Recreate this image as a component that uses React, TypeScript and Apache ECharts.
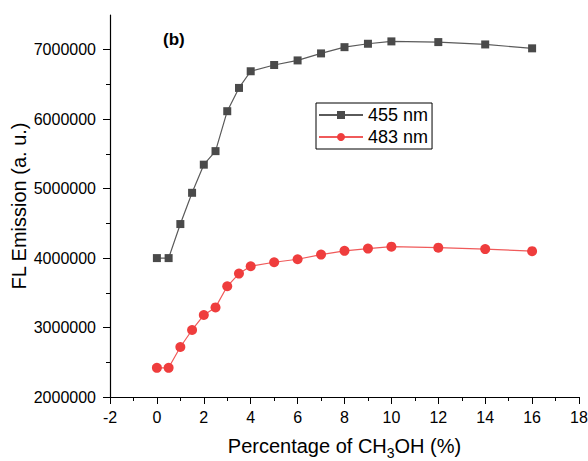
import React, { useEffect, useRef } from "react";
import * as echarts from "echarts";

// Methanol content (%) for each measurement
const methanolPct = [0, 0.5, 1, 1.5, 2, 2.5, 3, 3.5, 4, 5, 6, 7, 8, 9, 10, 12, 14, 16];

// Emission intensity at 455 nm
const emission455 = [
  4000000, 4000000, 4490000, 4940000, 5345000, 5540000, 6115000, 6450000, 6690000,
  6780000, 6846000, 6947000, 7037000, 7086000, 7120000, 7110000, 7076000, 7020000,
];

// Emission intensity at 483 nm
const emission483 = [
  2420000, 2420000, 2720000, 2965000, 3180000, 3290000, 3594000, 3777000, 3882000,
  3940000, 3983000, 4050000, 4105000, 4137000, 4165000, 4150000, 4130000, 4100000,
];

const yMajorTicks = [2000000, 3000000, 4000000, 5000000, 6000000, 7000000];
const yMinorTicks = [2500000, 3500000, 4500000, 5500000, 6500000];

const seriesNames = ["455 nm", "483 nm"];

const FONT = "'Liberation Sans', Arial, Helvetica, sans-serif";

export default function App() {
  const ref = useRef<HTMLDivElement>(null);

  useEffect(() => {
    document.body.style.margin = "0";
    if (!ref.current) return;
    const chart = echarts.init(ref.current, null, { renderer: "svg" });

    const pairs = (ys: number[]) => methanolPct.map((x, i) => [x, ys[i]]);

    chart.setOption({
      animation: false,
      backgroundColor: "#fff",
      textStyle: { fontFamily: FONT },
      grid: { left: 110, right: 9, top: 15, bottom: 64, containLabel: false, outerBoundsMode: "none" },
      legend: {
        orient: "vertical",
        left: 316,
        top: 103,
        itemWidth: 44,
        itemHeight: 10,
        itemGap: 4,
        padding: [3, 4, 3, 2],
        borderColor: "#000",
        borderWidth: 1,
        textStyle: { fontSize: 18, color: "#000", fontFamily: FONT },
        data: seriesNames,
      },
      xAxis: {
        type: "value",
        min: -2,
        max: 18,
        interval: 2,
        name: "Percentage of CH{sub|3}OH (%)",
        nameLocation: "middle",
        nameGap: 35,
        nameTextStyle: {
          fontSize: 20,
          color: "#000",
          fontFamily: FONT,
          rich: {
            sub: { fontSize: 14, padding: [14, 0, 0, 0], color: "#000", fontFamily: FONT },
          },
        },
        axisLine: { show: true, onZero: false, lineStyle: { color: "#000", width: 1.2 } },
        axisTick: { show: true, inside: false, length: 7, lineStyle: { color: "#000" } },
        minorTick: { show: true, splitNumber: 2, length: 4, lineStyle: { color: "#000" } },
        axisLabel: { fontSize: 16, color: "#000", margin: 12, fontFamily: FONT },
        splitLine: { show: false },
      },
      yAxis: [
        {
          type: "value",
          position: "left",
          min: 2000000,
          max: 7500000,
          interval: 1000000,
          name: "FL Emission (a. u.)",
          nameLocation: "middle",
          nameGap: 81,
          nameMoveOverlap: false,
          nameTextStyle: { fontSize: 20, color: "#000", fontFamily: FONT },
          axisLine: { show: true, onZero: false, lineStyle: { color: "#000", width: 1.2 } },
          axisTick: {
            show: true,
            inside: false,
            length: 7,
            customValues: yMajorTicks,
            lineStyle: { color: "#000" },
          },
          axisLabel: {
            fontSize: 16,
            color: "#000",
            margin: 14,
            fontFamily: FONT,
            customValues: yMajorTicks,
            formatter: (v: number) => String(Math.round(v)),
          },
          splitLine: { show: false },
        },
        {
          type: "value",
          position: "left",
          min: 2000000,
          max: 7500000,
          interval: 1000000,
          axisLine: { show: false, onZero: false },
          axisTick: {
            show: true,
            inside: false,
            length: 4,
            customValues: yMinorTicks,
            lineStyle: { color: "#000" },
          },
          axisLabel: { show: false },
          splitLine: { show: false },
        },
      ],
      graphic: [
        {
          type: "text",
          left: 163,
          top: 31,
          style: {
            text: "(b)",
            font: `bold 17px ${FONT}`,
            fill: "#000",
          },
        },
      ],
      series: [
        {
          name: seriesNames[0],
          type: "line",
          data: pairs(emission455),
          symbol: "rect",
          symbolSize: 8,
          itemStyle: { color: "#4a4a4a" },
          lineStyle: { color: "#5a5a5a", width: 1.2 },
        },
        {
          name: seriesNames[1],
          type: "line",
          data: pairs(emission483),
          symbol: "circle",
          symbolSize: 10,
          itemStyle: { color: "#ef3d3d" },
          lineStyle: { color: "#f05a5a", width: 1.2 },
        },
      ],
    });

    return () => chart.dispose();
  }, []);

  return <div ref={ref} style={{ width: 588, height: 461 }} />;
}
